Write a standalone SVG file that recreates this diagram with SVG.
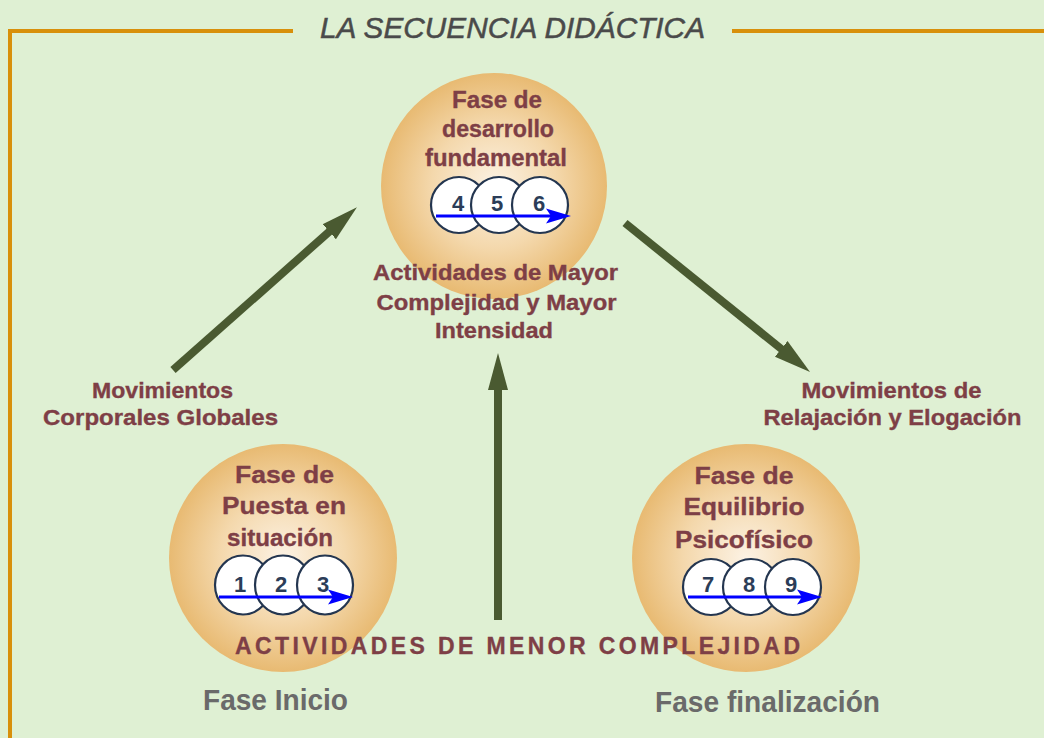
<svg xmlns="http://www.w3.org/2000/svg" width="1044" height="738" viewBox="0 0 1044 738">
  <defs>
    <radialGradient id="ball" cx="50%" cy="50%" r="50%">
      <stop offset="0" stop-color="#FCF2E4"/>
      <stop offset="0.55" stop-color="#F4D8AC"/>
      <stop offset="1" stop-color="#E8BA72"/>
    </radialGradient>
    <marker id="bigHead" markerUnits="userSpaceOnUse" markerWidth="37" markerHeight="22" viewBox="0 0 37 22" refX="1" refY="11" orient="auto">
      <path d="M0,1 L37,11 L0,21 Z" fill="#4A5A31"/>
    </marker>
    <style>
      .phase { font-family: "Liberation Sans", Arial, sans-serif; font-weight: bold; fill: #7E3F46; text-anchor: middle; stroke: #7E3F46; stroke-width: 0.35; }
      .num { font-family: "Liberation Sans", Arial, sans-serif; font-weight: bold; font-size: 22px; fill: #2B3D58; text-anchor: middle; }
      .nc { fill: #FFFFFF; stroke: #243650; stroke-width: 2.2; }
      .seq { stroke: #0000FF; stroke-width: 3; fill: none; }
      .seqHead { fill: #0000FF; }
      .big { stroke: #4A5A31; stroke-width: 8; fill: none; marker-end: url(#bigHead); }
      .gray { font-family: "Liberation Sans", Arial, sans-serif; font-weight: bold; fill: #6A6A6A; }
      .frame { stroke: #D8900B; stroke-width: 4; fill: none; }
    </style>
  </defs>

  <rect x="0" y="0" width="1044" height="738" fill="#DFF0D3"/>

  <g id="frame">
    <polyline class="frame" points="293,31 10,31 10,738"/>
    <line class="frame" x1="732" y1="31" x2="1044" y2="31"/>
    <text x="320" y="38" textLength="385" lengthAdjust="spacingAndGlyphs" font-family="'Liberation Sans', Arial, sans-serif" font-style="italic" font-size="30" fill="#4A4A4A" stroke="#4A4A4A" stroke-width="0.5">LA SECUENCIA DIDÁCTICA</text>
  </g>

  <g id="node-desarrollo">
    <circle cx="494" cy="186" r="113" fill="url(#ball)"/>
    <text class="phase" font-size="23" x="497" y="108" textLength="90" lengthAdjust="spacingAndGlyphs">Fase de</text>
    <text class="phase" font-size="23" x="498" y="137" textLength="112" lengthAdjust="spacingAndGlyphs">desarrollo</text>
    <text class="phase" font-size="23" x="496" y="166" textLength="142" lengthAdjust="spacingAndGlyphs">fundamental</text>
    <circle class="nc" cx="459" cy="205" r="28"/>
    <circle class="nc" cx="499" cy="205" r="28"/>
    <circle class="nc" cx="540" cy="205" r="28"/>
    <text class="num" x="458" y="211">4</text>
    <text class="num" x="497" y="211">5</text>
    <text class="num" x="539" y="211">6</text>
    <line class="seq" x1="436" y1="216" x2="552" y2="216"/>
    <path class="seqHead" d="M546,208.5 L571,216 L546,223.5 L551,216 Z"/>
  </g>

  <g id="node-inicio">
    <circle cx="283" cy="558" r="114" fill="url(#ball)"/>
    <text class="phase" font-size="24.5" x="284.5" y="483" textLength="99" lengthAdjust="spacingAndGlyphs">Fase de</text>
    <text class="phase" font-size="24.5" x="284" y="514" textLength="124" lengthAdjust="spacingAndGlyphs">Puesta en</text>
    <text class="phase" font-size="24.5" x="280" y="546" textLength="106" lengthAdjust="spacingAndGlyphs">situación</text>
    <ellipse class="nc" cx="243" cy="585" rx="28" ry="29.5"/>
    <ellipse class="nc" cx="283" cy="585" rx="28" ry="29.5"/>
    <ellipse class="nc" cx="325" cy="585" rx="28" ry="29.5"/>
    <text class="num" x="240" y="592">1</text>
    <text class="num" x="281" y="592">2</text>
    <text class="num" x="323" y="592">3</text>
    <line class="seq" x1="219" y1="597" x2="334" y2="597"/>
    <path class="seqHead" d="M328,589.5 L353,597 L328,604.5 L333,597 Z"/>
  </g>

  <g id="node-equilibrio">
    <circle cx="746" cy="558" r="114" fill="url(#ball)"/>
    <text class="phase" font-size="24.5" x="744" y="484" textLength="99" lengthAdjust="spacingAndGlyphs">Fase de</text>
    <text class="phase" font-size="24.5" x="744" y="515" textLength="121" lengthAdjust="spacingAndGlyphs">Equilibrio</text>
    <text class="phase" font-size="24.5" x="744" y="548" textLength="138" lengthAdjust="spacingAndGlyphs">Psicofísico</text>
    <circle class="nc" cx="711" cy="587" r="28"/>
    <circle class="nc" cx="751" cy="587" r="28"/>
    <circle class="nc" cx="793" cy="587" r="28"/>
    <text class="num" x="708" y="592">7</text>
    <text class="num" x="749" y="592">8</text>
    <text class="num" x="791" y="592">9</text>
    <line class="seq" x1="688" y1="597" x2="803" y2="597"/>
    <path class="seqHead" d="M797,589.5 L822,597 L797,604.5 L802,597 Z"/>
  </g>

  <g id="connectors">
    <line class="big" x1="173" y1="370" x2="330" y2="231"/>
    <line class="big" x1="625" y1="223" x2="782" y2="349.5"/>
    <line class="big" x1="498" y1="620" x2="498" y2="389"/>
  </g>

  <g id="labels">
    <text class="phase" font-size="22.5" x="495.5" y="280" textLength="245" lengthAdjust="spacingAndGlyphs">Actividades de Mayor</text>
    <text class="phase" font-size="22.5" x="496.5" y="310" textLength="240" lengthAdjust="spacingAndGlyphs">Complejidad y Mayor</text>
    <text class="phase" font-size="22.5" x="494" y="338" textLength="118" lengthAdjust="spacingAndGlyphs">Intensidad</text>

    <text class="phase" font-size="22.5" x="162.5" y="398" textLength="141" lengthAdjust="spacingAndGlyphs">Movimientos</text>
    <text class="phase" font-size="22.5" x="160.5" y="425" textLength="235" lengthAdjust="spacingAndGlyphs">Corporales Globales</text>

    <text class="phase" font-size="22.5" x="891.5" y="398" textLength="180" lengthAdjust="spacingAndGlyphs">Movimientos de</text>
    <text class="phase" font-size="22.5" x="892.5" y="425" textLength="258" lengthAdjust="spacingAndGlyphs">Relajación y Elogación</text>

    <text class="phase" font-size="23" x="517.5" y="654" textLength="565" lengthAdjust="spacing">ACTIVIDADES DE MENOR COMPLEJIDAD</text>

    <text class="gray" font-size="29" x="203" y="710" textLength="145" lengthAdjust="spacingAndGlyphs">Fase Inicio</text>
    <text class="gray" font-size="29" x="655" y="712" textLength="225" lengthAdjust="spacingAndGlyphs">Fase finalización</text>
  </g>
</svg>
